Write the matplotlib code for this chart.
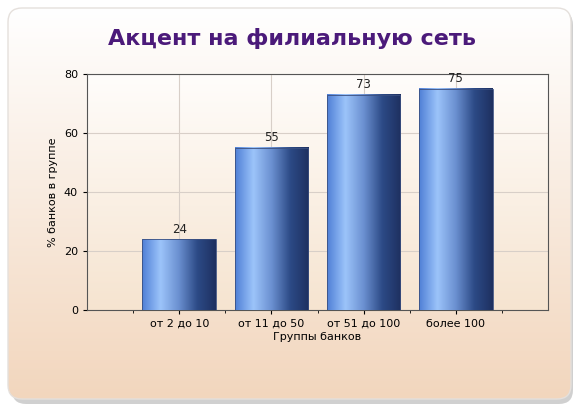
import matplotlib
matplotlib.use("Agg")
import matplotlib.pyplot as plt
import numpy as np
from matplotlib.patches import FancyBboxPatch
from matplotlib.colors import LinearSegmentedColormap

categories = ["от 2 до 10", "от 11 до 50", "от 51 до 100", "более 100"]
values = [24, 55, 73, 75]
labels = ["24", "55", "73", "75"]

W, H = 583, 409
fig = plt.figure(figsize=(W/100, H/100), dpi=100)
fig.patch.set_facecolor("white")

bg = fig.add_axes([0, 0, 1, 1]); bg.set_axis_off(); bg.set_xlim(0, W); bg.set_ylim(0, H)
bg.add_patch(FancyBboxPatch((12, 5), W-22, H-16, boxstyle="round,pad=0,rounding_size=14",
                            fc="#bdbdbd", ec="none", alpha=0.7, zorder=0))
grad = np.linspace(0, 1, 256).reshape(-1, 1)
card_cmap = LinearSegmentedColormap.from_list("c", ["#f2d6bd", "#ffffff"])
im = bg.imshow(grad, extent=[8, W-12, 10, H-8], origin="lower", cmap=card_cmap,
               aspect="auto", zorder=1)
clip = FancyBboxPatch((8, 10), W-20, H-18, boxstyle="round,pad=0,rounding_size=14",
                      fc="none", ec="#e5e0dc", lw=1, zorder=2)
bg.add_patch(clip); im.set_clip_path(clip)
bg.set_xlim(0, W); bg.set_ylim(0, H)
fig.text(0.5, 0.905, "Акцент на филиальную сеть", ha="center", va="center",
         fontsize=16, fontweight="bold", color="#4b1a7a")

ax = fig.add_axes([87/W, 1-310/H, (548-87)/W, (310-74)/H])
plot_cmap = LinearSegmentedColormap.from_list("p", ["#f6e4d0", "#fffdfb"])
ax.imshow(grad, extent=[0, 5, 0, 80], origin="lower", cmap=plot_cmap, aspect="auto", zorder=0)
x = np.arange(1, len(values)+1)
ax.set_xticks(x); ax.set_xticklabels(categories, fontsize=8)
ax.set_yticks([0, 20, 40, 60, 80]); ax.tick_params(labelsize=8, length=3)
ax.set_xticks(np.arange(0.5, 5, 1), minor=True)
ax.grid(True, color="#d8cfc8", lw=0.8, zorder=1)
ax.set_axisbelow(True)
bar_cmap = LinearSegmentedColormap.from_list("b", ["#4f7fd6", "#9cc4fa", "#6a8fd0", "#2c4a86", "#1e3060"])
bars = ax.bar(x, values, width=0.8, color="none", zorder=3)
hg = np.linspace(0, 1, 256).reshape(1, -1)
for b, lab in zip(bars, labels):
    x0, w, h = b.get_x(), b.get_width(), b.get_height()
    ax.imshow(hg, extent=[x0, x0+w, 0, h], cmap=bar_cmap, aspect="auto", zorder=3)
    ax.add_patch(plt.Rectangle((x0, 0), w, h, fc="none", ec="#3a4f80", lw=0.6, zorder=4))
    ax.text(x0+w/2, h+1.2, lab, ha="center", va="bottom", fontsize=8.5, color="#222", zorder=5)
ax.set_xlim(0, 5); ax.set_ylim(0, 80)
for s in ax.spines.values(): s.set_color("#555"); s.set_linewidth(0.8)
ax.set_xlabel("Группы банков", fontsize=8, labelpad=2)
ax.set_ylabel("% банков в группе", fontsize=8)
fig.savefig("out.png", dpi=100)
